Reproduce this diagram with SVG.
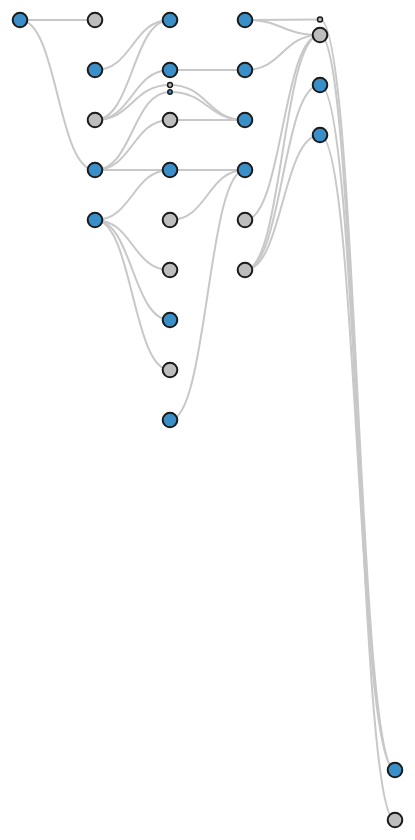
<svg xmlns="http://www.w3.org/2000/svg" width="415" height="840" viewBox="0 0 415 840">
<style>
.links path{fill:none;stroke:#c8c8c8;stroke-width:2}
.n circle{stroke:#1a1a1a;stroke-width:2}
.n .s{stroke-width:1.5}
.b{fill:#3a8fc9}
.g{fill:#bdbdbd}
</style>
<rect width="415" height="840" fill="#fff"/>
<g class="links" id="links">
<path d="M20,20 L95,20"/>
<path d="M20,20 C57.5,20 57.5,170 95,170"/>
<path d="M95,70 C132.5,70 132.5,20 170,20"/>
<path d="M95,120 C132.5,120 132.5,20 170,20"/>
<path d="M95,120 C132.5,120 132.5,70 170,70"/>
<path d="M95,120 C132.5,120 132.5,85 170,85"/>
<path d="M95,170 C132.5,170 132.5,92 170,92"/>
<path d="M95,170 C132.5,170 132.5,120 170,120"/>
<path d="M95,170 L170,170"/>
<path d="M95,220 C132.5,220 132.5,170 170,170"/>
<path d="M95,220 C132.5,220 132.5,270 170,270"/>
<path d="M95,220 C132.5,220 132.5,320 170,320"/>
<path d="M95,220 C132.5,220 132.5,370 170,370"/>
<path d="M170,70 L245,70"/>
<path d="M170,85 C207.5,85 207.5,120 245,120"/>
<path d="M170,92 C207.5,92 207.5,120 245,120"/>
<path d="M170,120 L245,120"/>
<path d="M170,170 L245,170"/>
<path d="M170,220 C207.5,220 207.5,170 245,170"/>
<path d="M170,420 C207.5,420 207.5,170 245,170"/>
<path d="M245,20 L320,19.5"/>
<path d="M245,20 C282.5,20 282.5,35 320,35"/>
<path d="M245,70 C282.5,70 282.5,35 320,35"/>
<path d="M245,220 C282.5,220 282.5,35 320,35"/>
<path d="M245,270 C282.5,270 282.5,35 320,35"/>
<path d="M245,270 C282.5,270 282.5,85 320,85"/>
<path d="M245,270 C282.5,270 282.5,135 320,135"/>
<path d="M320,19.5 C357.5,19.5 357.5,770 395,770"/>
<path d="M320,35 C357.5,35 357.5,820 395,820"/>
<path d="M320,85 C357.5,85 357.5,770 395,770"/>
<path d="M320,135 C357.5,135 357.5,770 395,770"/>
</g>
<g class="n">
<g id="nA"><circle class="b" cx="20" cy="20" r="7.3"/></g>
<g id="nB"><circle class="g" cx="95" cy="20" r="7.3"/></g>
<g id="nC"><circle class="b" cx="95" cy="70" r="7.3"/></g>
<g id="nD"><circle class="g" cx="95" cy="120" r="7.3"/></g>
<g id="nE"><circle class="b" cx="95" cy="170" r="7.3"/></g>
<g id="nF"><circle class="b" cx="95" cy="220" r="7.3"/></g>
<g id="nG"><circle class="b" cx="170" cy="20" r="7.3"/></g>
<g id="nH"><circle class="b" cx="170" cy="70" r="7.3"/></g>
<g id="nS1"><circle class="g s" cx="170" cy="85" r="2.4"/></g>
<g id="nS2"><circle class="b s" cx="170" cy="92" r="2.2"/></g>
<g id="nI"><circle class="g" cx="170" cy="120" r="7.3"/></g>
<g id="nJ"><circle class="b" cx="170" cy="170" r="7.3"/></g>
<g id="nK"><circle class="g" cx="170" cy="220" r="7.3"/></g>
<g id="nL"><circle class="g" cx="170" cy="270" r="7.3"/></g>
<g id="nM"><circle class="b" cx="170" cy="320" r="7.3"/></g>
<g id="nN"><circle class="g" cx="170" cy="370" r="7.3"/></g>
<g id="nO"><circle class="b" cx="170" cy="420" r="7.3"/></g>
<g id="nP"><circle class="b" cx="245" cy="20" r="7.3"/></g>
<g id="nQ"><circle class="b" cx="245" cy="70" r="7.3"/></g>
<g id="nR"><circle class="b" cx="245" cy="120" r="7.3"/></g>
<g id="nS"><circle class="b" cx="245" cy="170" r="7.3"/></g>
<g id="nT"><circle class="g" cx="245" cy="220" r="7.3"/></g>
<g id="nU"><circle class="g" cx="245" cy="270" r="7.3"/></g>
<g id="nS3"><circle class="g s" cx="320" cy="19.5" r="2.5"/></g>
<g id="nV"><circle class="g" cx="320" cy="35" r="7.3"/></g>
<g id="nW"><circle class="b" cx="320" cy="85" r="7.3"/></g>
<g id="nX"><circle class="b" cx="320" cy="135" r="7.3"/></g>
<g id="nY"><circle class="b" cx="395" cy="770" r="7.3"/></g>
<g id="nZ"><circle class="g" cx="395" cy="820" r="7.3"/></g>
</g>
</svg>
